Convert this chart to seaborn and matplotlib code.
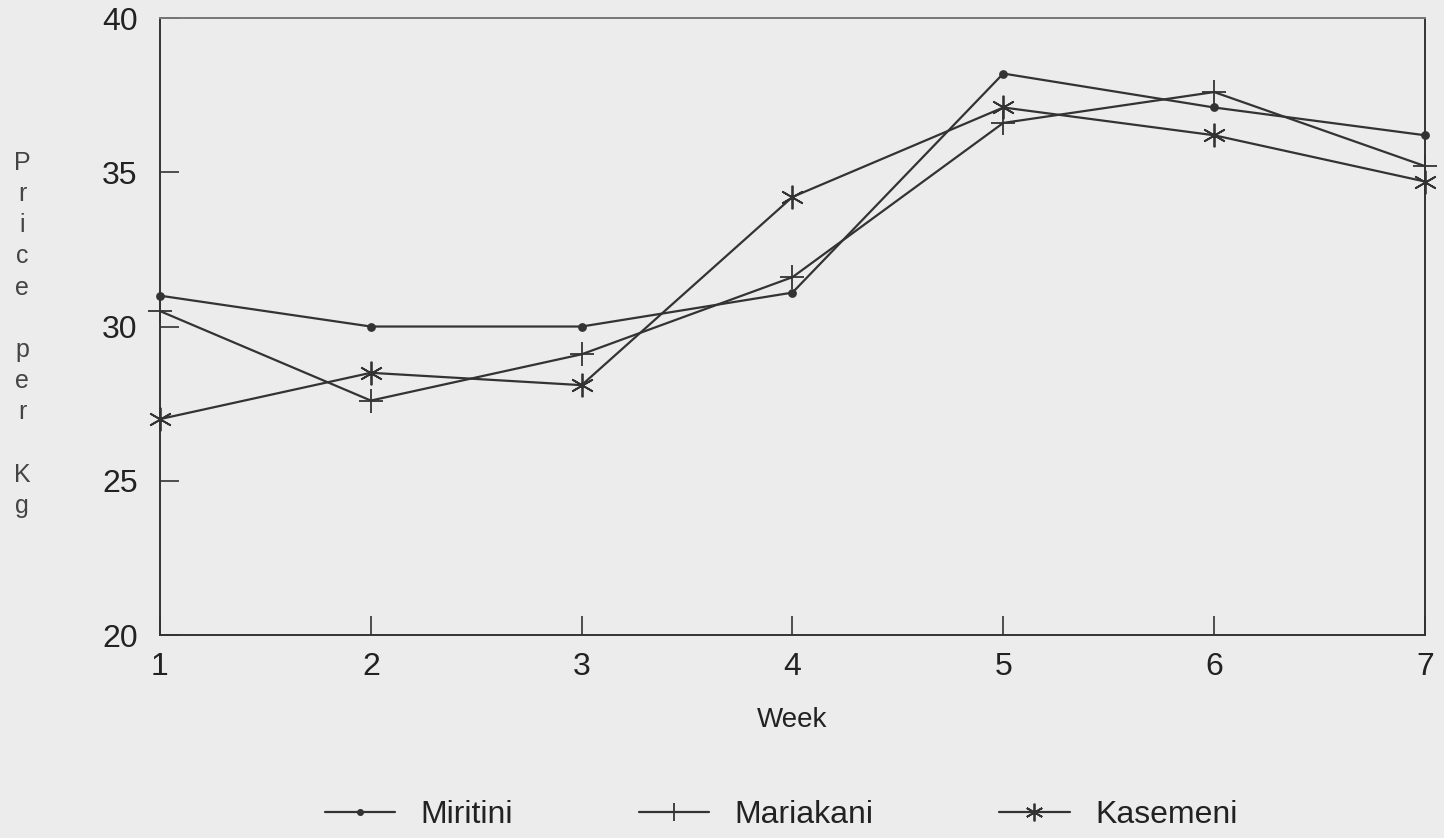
import matplotlib
import pandas as pd
import seaborn as sns
from matplotlib import pyplot as plt

matplotlib.use("Agg")

weeks = [1, 2, 3, 4, 5, 6, 7]
markets = ["Miritini", "Mariakani", "Kasemeni"]
miritini = [31.0, 30.0, 30.0, 31.1, 38.2, 37.1, 36.2]
mariakani = [30.5, 27.6, 29.1, 31.6, 36.6, 37.6, 35.2]
kasemeni = [27.0, 28.5, 28.1, 34.2, 37.1, 36.2, 34.7]
y_ticks = [20, 25, 30, 35, 40]

bg = "#ececec"
ink = "#333333"

sns.set_theme(style="ticks")
plt.rcParams["font.family"] = ["Liberation Sans", "DejaVu Sans"]

fig = plt.figure(figsize=(14.44, 8.38), dpi=100, facecolor=bg)
ax = fig.add_axes([0.1108, 0.2422, 0.8760, 0.7363])
ax.set_facecolor(bg)

# one call per market, since seaborn won't mix filled and line markers
styles = {
    "Miritini": dict(marker="o", markersize=5),
    "Mariakani": dict(marker="+", markersize=17),
    "Kasemeni": dict(marker=(6, 2, 0), markersize=17),
}
for name, vals in zip(markets, [miritini, mariakani, kasemeni]):
    df = pd.DataFrame({"Week": weeks, "Price": vals})
    sns.lineplot(
        data=df, x="Week", y="Price", color=ink, linewidth=1.6,
        markeredgewidth=1.3, markeredgecolor=ink, label=name, ax=ax,
        clip_on=False, **styles[name],
    )

ax.set_xlim(1, 7)
ax.set_ylim(20, 40)
ax.set_xticks(weeks)
ax.set_yticks(y_ticks)
ax.tick_params(
    axis="both", direction="in", length=14, width=1.2, color=ink,
    labelsize=23, labelcolor="#222222", pad=12,
)
ax.tick_params(axis="y", pad=16)
for s in ax.spines.values():
    s.set_color(ink)
    s.set_linewidth(1.4)
ax.spines["top"].set_color("#777777")

ax.set_xlabel("Week", fontsize=20, color="#222222", labelpad=18)
ax.set_ylabel("")
# stacked-letter y label like the original
fig.text(
    0.0152, 0.601, "P\nr\ni\nc\ne\n\np\ne\nr\n\nK\ng",
    fontsize=18, color="#444444", ha="center", va="center", linespacing=1.38,
)

handles, labels = ax.get_legend_handles_labels()
ax.legend_.remove()
fig.legend(
    handles, labels, loc="center", bbox_to_anchor=(0.541, 0.027), ncol=3,
    frameon=False, fontsize=23, handlelength=2.2, columnspacing=3.93,
    labelcolor="#222222", markerscale=0.75,
)

fig.savefig("out.png", dpi=100, facecolor=bg)
